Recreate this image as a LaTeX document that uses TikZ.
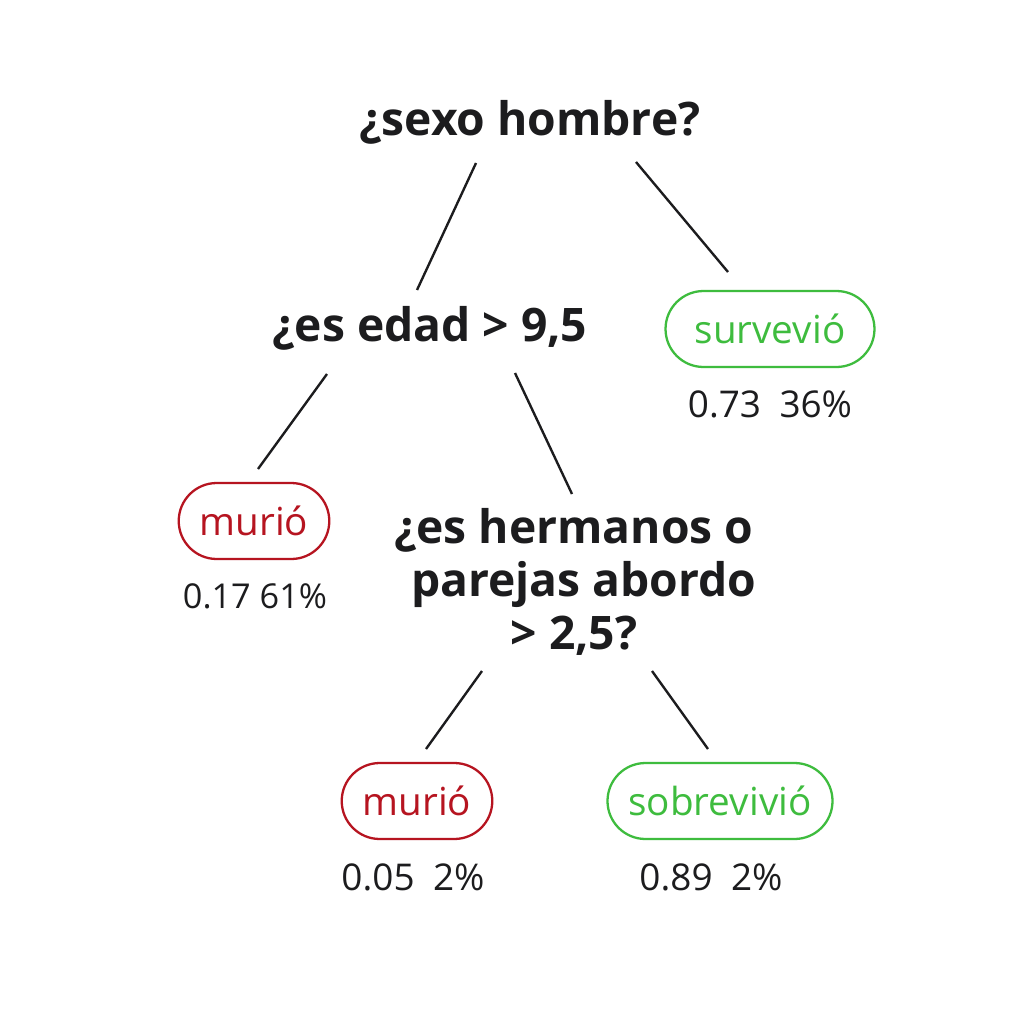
\documentclass[tikz,border=0pt]{standalone}
\usepackage{fontspec}
\setmainfont{Open Sans}
\usepackage{tikz}
\usetikzlibrary{positioning}
\definecolor{murred}{RGB}{182,20,32}
\definecolor{vivgreen}{RGB}{62,188,62}
\definecolor{inkdark}{RGB}{28,28,30}
\tikzset{
  question/.style={text=inkdark,font=\fontsize{26.3}{30}\selectfont\bfseries,align=center,inner sep=0pt},
  leaf/.style={rectangle,draw,line width=1.3pt,rounded corners=0.76cm,minimum height=1.52cm,inner xsep=0.42cm,font=\fontsize{22}{26}\selectfont},
  dies/.style={leaf,draw=murred,text=murred},
  lives/.style={leaf,draw=vivgreen,text=vivgreen},
  stats/.style={text=inkdark,font=\fontsize{21}{25}\selectfont,inner sep=0pt},
  branch/.style={line width=1.35pt,draw=inkdark}
}

\begin{document}
\begin{tikzpicture}[x=0.02cm,y=-0.02cm]
\useasboundingbox [fill=white] (0,0) rectangle (1024,1024);
\node (root)   at (530,122) [question] {¿sexo hombre?};
\node (edad)   at (430,328) [question] {¿es edad > 9,5};
\node (surv)   at (770,329) [lives,minimum width=4.18cm] {survevió};
\node (survS)  at (770,404) [stats] {0.73\enspace 36\%};
\node (muriA)  at (254,521) [dies] {murió};
\node (muriAS) at (255,596) [stats,font=\fontsize{19.5}{24}\selectfont] {0.17 61\%};
\node (herm)   at (574,582) [question] {¿es hermanos o\\\hspace*{11pt}parejas abordo\\> 2,5?};
\node (muriB)  at (417,801) [dies] {murió};
\node (muriBS) at (413,877) [stats] {0.05\enspace2\%};
\node (sobre)  at (720,801) [lives] {sobrevivió};
\node (sobreS) at (711,877) [stats] {0.89\enspace2\%};
\draw [branch] ([shift={(-54,41)}]root.center)  -- ([shift={(-13,-38)}]edad.center);
\draw [branch] ([shift={(106,40)}]root.center)  -- ([shift={(-42,-57)}]surv.center);
\draw [branch] ([shift={(-103,46)}]edad.center) -- ([shift={(4,-52)}]muriA.center);
\draw [branch] ([shift={(85,45)}]edad.center)   -- ([shift={(-2,-88)}]herm.center);
\draw [branch] ([shift={(-92,89)}]herm.center)  -- ([shift={(9,-52)}]muriB.center);
\draw [branch] ([shift={(78,89)}]herm.center)   -- ([shift={(-12,-52)}]sobre.center);
\end{tikzpicture}
\end{document}
